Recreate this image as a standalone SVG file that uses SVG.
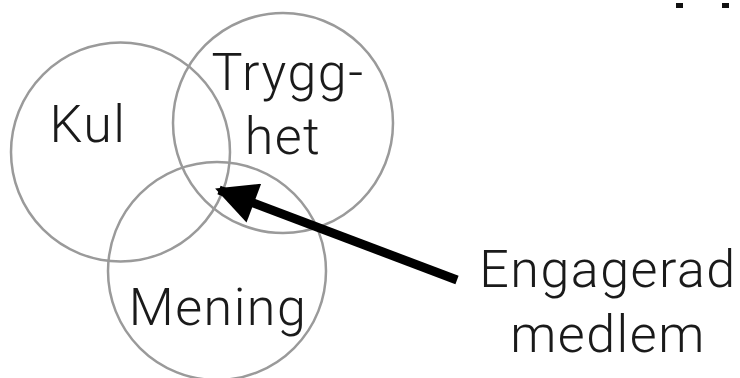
<svg xmlns="http://www.w3.org/2000/svg" width="740" height="378" viewBox="0 0 740 378">
<style>
.c{fill:none;stroke:#9a9a9a;stroke-width:2.5}
.t{font-family:Roboto,"Liberation Sans",Arial,sans-serif;font-weight:300;font-size:52px;letter-spacing:1.5px;fill:#1a1a1a;text-anchor:middle}
</style>
<defs>
<marker id="ah" viewBox="0 0 10 10" refX="9" refY="5" markerWidth="5" markerHeight="4.6" markerUnits="strokeWidth" orient="auto">
<path d="M0,0 L10,5 L0,10 Z" fill="#000"/>
</marker>
</defs>
<rect width="740" height="378" fill="#fff"/>
<rect x="676" y="3" width="7" height="5" fill="#111"/>
<rect x="722" y="3" width="7" height="5" fill="#111"/>
<g id="kul"><circle class="c" cx="120.5" cy="152" r="109.5"/><text class="t" x="88" y="142">Kul</text></g>
<g id="trygghet"><circle class="c" cx="283" cy="123" r="110"/><text class="t" x="288" y="90">Trygg-</text><text class="t" x="283" y="154">het</text></g>
<g id="mening"><circle class="c" cx="217" cy="271" r="109"/><text class="t" x="218" y="325">Mening</text></g>
<g id="engagerad"><text class="t" x="608" y="287">Engagerad</text><text class="t" x="608" y="352">medlem</text></g>
<g id="connectors">
<line x1="457" y1="280" x2="219" y2="190" stroke="#000" stroke-width="9" marker-end="url(#ah)"/>
</g>
</svg>
